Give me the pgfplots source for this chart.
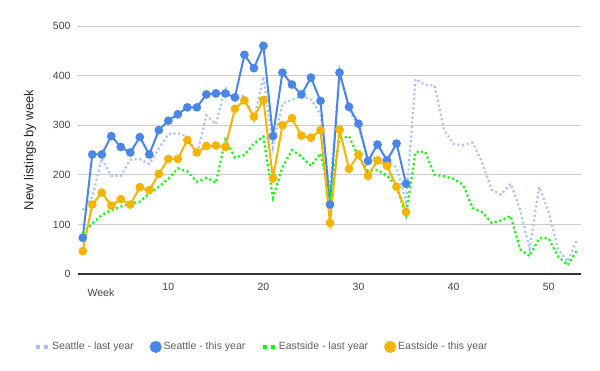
\documentclass[border=0pt]{standalone}
\usepackage{fontspec}
\setmainfont{Liberation Sans}
\usepackage{pgfplots}
\usepackage{pgfplotstable}
\pgfplotsset{compat=1.18}
\definecolor{sl}{HTML}{A4C2F4}
\definecolor{st}{HTML}{4A86E8}
\definecolor{el}{HTML}{00FF00}
\definecolor{et}{HTML}{F4B400}
\definecolor{gridc}{HTML}{CCCCCC}
\definecolor{tickc}{HTML}{444444}
\definecolor{legc}{HTML}{5F5F5F}

\pgfplotstableread{
w v
1 129
2 155
3 233
4 198
5 198
6 230
7 232
8 222
9 253
10 282
11 284
12 277
13 240
14 320
15 302
16 376
17 351
18 361
19 310
20 398
21 255
22 344
23 351
24 359
25 352
26 322
27 163
28 411
29 332
30 296
31 233
32 235
33 228
34 215
35 145
36 393
37 381
38 380
39 290
40 262
41 260
42 265
43 225
44 170
45 160
46 182
47 130
48 50
49 176
50 125
51 50
52 25
53 70
}\seattlelast

\pgfplotstableread{
w v
1 73
2 241
3 241
4 278
5 256
6 245
7 276
8 241
9 290
10 309
11 322
12 336
13 336
14 362
15 364
16 364
17 356
18 442
19 415
20 460
21 278
22 406
23 382
24 362
25 396
26 349
27 140
28 406
29 337
30 303
31 228
32 261
33 229
34 263
35 182
}\seattlethis

\pgfplotstableread{
w v
1 82
2 102
3 119
4 129
5 136
6 142
7 146
8 163
9 176
10 192
11 213
12 207
13 186
14 194
15 184
16 271
17 235
18 240
19 263
20 277
21 154
22 215
23 250
24 237
25 218
26 243
27 155
28 272
29 278
30 236
31 208
32 210
33 198
34 176
35 119
36 246
37 247
38 200
39 197
40 192
41 180
42 133
43 125
44 103
45 108
46 117
47 50
48 36
49 72
50 72
51 35
52 18
53 48
}\eastsidelast

\pgfplotstableread{
w v
1 46
2 140
3 164
4 138
5 151
6 140
7 175
8 169
9 202
10 232
11 232
12 270
13 245
14 258
15 259
16 256
17 333
18 350
19 317
20 351
21 193
22 300
23 314
24 279
25 275
26 290
27 103
28 291
29 212
30 241
31 198
32 229
33 218
34 176
35 125
}\eastsidethis

\begin{document}
\begin{tikzpicture}
\begin{axis}[
  name=ax,
  scale only axis,
  width=503bp, height=248bp,
  xmin=0.5, xmax=53.4,
  ymin=0, ymax=500,
  xtick={10,20,30,40,50},
  ytick={0,100,200,300,400,500},
  major tick length=0pt,
  /pgf/number format/assume math mode=true,
  tick label style={font=\fontsize{10.5bp}{12bp}\selectfont, text=tickc},
  xticklabel style={yshift=-6bp},
  yticklabel style={xshift=-4bp},
  ymajorgrids,
  grid style={gridc, line width=0.8bp},
  axis y line*=left,
  y axis line style={draw=none},
  axis x line*=bottom,
  x axis line style={draw=black!80, line width=1.2bp},
  clip=false,
  legend columns=4,
  legend style={draw=none, fill=none,
    font=\fontsize{10.5bp}{12bp}\selectfont, text=legc,
    at={(0.3658,-0.294)}, anchor=center,
    /tikz/every even column/.append style={column sep=14bp},
    inner sep=0pt},
  legend cell align=left,
]
\addplot[sl, line width=2.2bp, dash pattern=on 2bp off 2.7bp,
  legend image code/.code={\draw[sl, line width=3.5bp, dash pattern=on 4bp off 4bp] (0bp,0bp) -- (12bp,0bp);}]
  table[x=w,y=v] {\seattlelast};
\addlegendentry{Seattle - last year}
\addplot[st, line width=2bp, mark=*, mark size=3.3bp, mark options={solid, fill=st, draw=st},
  legend image code/.code={\fill[st] (5bp,0bp) circle (5bp);}]
  table[x=w,y=v] {\seattlethis};
\addlegendentry{Seattle - this year}
\addplot[el, line width=2.2bp, dash pattern=on 2bp off 2.7bp,
  legend image code/.code={\draw[el, line width=3.5bp, dash pattern=on 4bp off 4bp] (0bp,0bp) -- (12bp,0bp);}]
  table[x=w,y=v] {\eastsidelast};
\addlegendentry{Eastside - last year}
\addplot[et, line width=2bp, mark=*, mark size=3.3bp, mark options={solid, fill=et, draw=et},
  legend image code/.code={\fill[et] (5bp,0bp) circle (5bp);}]
  table[x=w,y=v] {\eastsidethis};
\addlegendentry{Eastside - this year}
\end{axis}
\node[font=\fontsize{10.5bp}{12bp}\selectfont, text=tickc] at ([xshift=23bp,yshift=-19bp]ax.south west) {Week};
\node[font=\fontsize{13bp}{15bp}\selectfont, text=black!85, rotate=90] at ([xshift=-48bp]ax.west) {New listings by week};
\pgfresetboundingbox
\path[use as bounding box] ([xshift=-78bp,yshift=-97bp]ax.south west) rectangle ++(600bp,371bp);
\end{tikzpicture}
\end{document}
